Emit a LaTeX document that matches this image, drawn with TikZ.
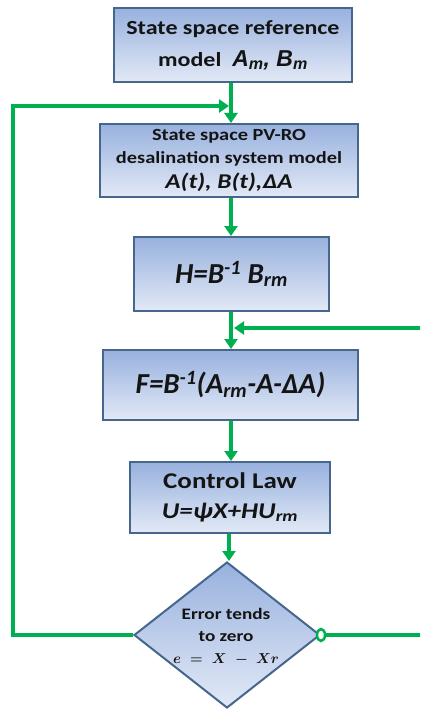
\documentclass[tikz,border=0pt]{standalone}
\usepackage{fontspec}
\setmainfont[FakeStretch=1.2]{Carlito}
\newfontfamily\calfont{Carlito}
\newfontfamily\arfont{Liberation Sans}
\usetikzlibrary{arrows.meta,shapes.geometric}
\definecolor{flowgreen}{HTML}{00B050}
\definecolor{boxedge}{HTML}{46668C}
\definecolor{boxtop}{HTML}{98B1DE}
\definecolor{boxbot}{HTML}{E2E9F6}
\definecolor{inktext}{HTML}{141414}
\tikzset{
  stepbox/.style={draw=boxedge, line width=2pt, top color=boxtop, bottom color=boxbot,
    rectangle, inner sep=0pt, align=center, font=\bfseries, text=inktext},
  flow/.style={draw=flowgreen, line width=3.5pt,
    -{Triangle[width=13pt,length=10pt]}},
}
\begin{document}
\begin{tikzpicture}[x=1pt,y=-1pt]
\clip (0,0) rectangle (420,711);
\fill[white] (0,0) rectangle (420,711);

% process boxes
\node[stepbox, minimum width=238pt, minimum height=74pt, font=\bfseries\fontsize{20}{32}\selectfont]
  (ref) at (233,45) {State space reference\\model\ \ {\arfont\bfseries\itshape\fontsize{23}{32}\selectfont A\textsubscript{m}, B\textsubscript{m}}};
\node[stepbox, minimum width=258pt, minimum height=73pt, font=\bfseries\fontsize{17}{23}\selectfont]
  (plant) at (229,160.5) {State space PV-RO\\desalination system model\\[2pt]{\fontsize{21}{25}\selectfont\itshape A(t), B(t),ΔA}};
\node[stepbox, minimum width=195pt, minimum height=74pt, font=\calfont\bfseries\itshape\fontsize{29}{30}\selectfont]
  (hgain) at (231.5,274) {H=B\textsuperscript{-1} B\textsubscript{rm}};
\node[stepbox, minimum width=255pt, minimum height=70pt, font=\calfont\bfseries\itshape\fontsize{29}{30}\selectfont]
  (fgain) at (230.5,385) {F=B\textsuperscript{-1}(A\textsubscript{rm}-A-ΔA)};
\node[stepbox, minimum width=200pt, minimum height=71pt, font=\bfseries\fontsize{22.5}{30}\selectfont]
  (law) at (230,497.5) {Control Law\\{\itshape U=ψX+HU\textsubscript{rm}}};

% decision
\node[diamond, draw=boxedge, line width=2pt, top color=boxtop, bottom color=boxbot,
  minimum width=186pt, minimum height=146pt, inner sep=0pt] (err) at (227,635) {};
\node[align=center, text=inktext, font=\bfseries\fontsize{16}{22}\selectfont] (errtext) at (226,637)
  {Error tends\\to zero\\{\fontsize{15}{20}\selectfont\boldmath $e\;=\;X\;-\;Xr$}};

% main flow
\coordinate (trunk) at (231,0);
\draw[flow] (ref.south -| trunk) -- (plant.north -| trunk);
\draw[flow] (plant.south -| trunk) -- (hgain.north -| trunk);
\draw[flow] (hgain.south -| trunk) -- (fgain.north -| trunk);
\draw[flow] (fgain.south -| trunk) -- (law.north -| trunk);
\coordinate (lowtrunk) at (229,0);
\draw[flow] (law.south -| lowtrunk) -- (err.north -| lowtrunk);

% feedback loops
\coordinate (lcorner) at (13,635);
\coordinate (ltop) at (13,106);
\coordinate (lend) at (229,106);
\draw[flow] (err.west) -- (lcorner) -- (ltop) -- (lend);
\coordinate (rcorner) at (430,635);
\coordinate (rtop) at (430,328);
\coordinate (rend) at (234,328);
\draw[flow] (err.east) -- (rcorner) -- (rtop) -- (rend);
\draw[draw=flowgreen, line width=2.5pt, fill=white] (err.east) ellipse (4pt and 6pt);
\end{tikzpicture}
\end{document}
